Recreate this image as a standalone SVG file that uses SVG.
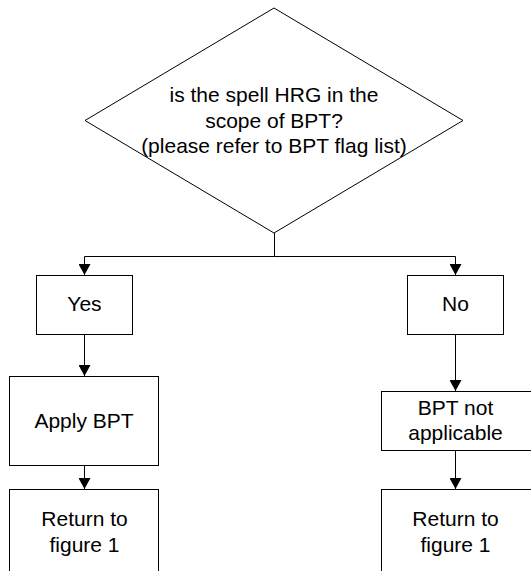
<svg xmlns="http://www.w3.org/2000/svg" width="531" height="571" viewBox="0 0 531 571">
<style>
.s{fill:#fff;stroke:#000;stroke-width:1}
.t{font-family:"Liberation Sans",Arial,sans-serif;font-size:21px;fill:#000;text-anchor:middle}
.c{fill:none;stroke:#000;stroke-width:1}
</style>
<defs>
<marker id="ah" markerWidth="12" markerHeight="12" refX="11" refY="6" orient="auto" markerUnits="userSpaceOnUse">
<path d="M0,0 L11,6 L0,12 Z" fill="#000"/>
</marker>
</defs>
<rect width="531" height="571" fill="#fff"/>
<g id="decision">
<polygon class="s" points="274,8 463,120.5 274,233 85,120.5"/>
<text class="t" x="274" y="102">is the spell HRG in the</text>
<text class="t" x="274" y="127.5">scope of BPT?</text>
<text class="t" x="274" y="153">(please refer to BPT flag list)</text>
</g>
<g id="yes">
<rect class="s" x="36.5" y="275.5" width="96" height="59"/>
<text class="t" x="84.5" y="311">Yes</text>
</g>
<g id="no">
<rect class="s" x="407.5" y="275.5" width="96" height="59"/>
<text class="t" x="455.5" y="311">No</text>
</g>
<g id="apply">
<rect class="s" x="9.5" y="376.5" width="149" height="89"/>
<text class="t" x="84" y="428">Apply BPT</text>
</g>
<g id="notapplicable">
<rect class="s" x="381.5" y="391.5" width="152" height="59"/>
<text class="t" x="455.5" y="415">BPT not</text>
<text class="t" x="455.5" y="440">applicable</text>
</g>
<g id="return1">
<rect class="s" x="9.5" y="489.5" width="149" height="90"/>
<text class="t" x="84.5" y="526">Return to</text>
<text class="t" x="84.5" y="552">figure 1</text>
</g>
<g id="return2">
<rect class="s" x="381.5" y="489.5" width="152" height="90"/>
<text class="t" x="455.5" y="526">Return to</text>
<text class="t" x="455.5" y="552">figure 1</text>
</g>
<g id="connectors">
<polyline class="c" points="274.5,233 274.5,256.5 84.5,256.5 84.5,275" marker-end="url(#ah)"/>
<polyline class="c" points="274.5,256.5 455.5,256.5 455.5,275" marker-end="url(#ah)"/>
<line class="c" x1="84.5" y1="334.5" x2="84.5" y2="376" marker-end="url(#ah)"/>
<line class="c" x1="455.5" y1="334.5" x2="455.5" y2="391" marker-end="url(#ah)"/>
<line class="c" x1="84.5" y1="465.5" x2="84.5" y2="489" marker-end="url(#ah)"/>
<line class="c" x1="455.5" y1="450.5" x2="455.5" y2="489" marker-end="url(#ah)"/>
</g>
</svg>
